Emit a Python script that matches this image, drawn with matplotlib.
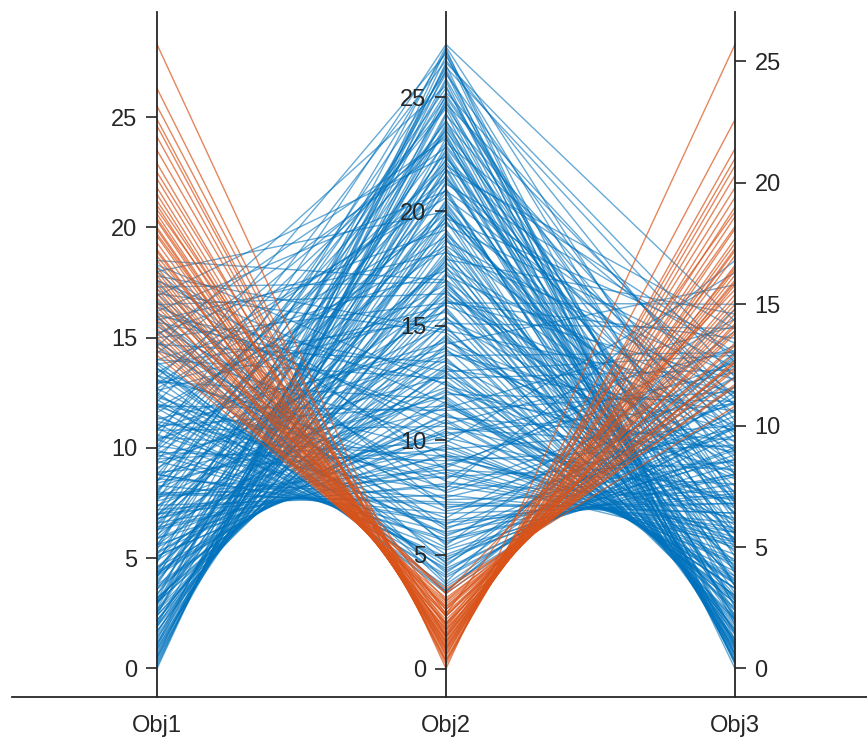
import matplotlib
matplotlib.use("Agg")
import matplotlib.pyplot as plt
import numpy as np

plt.rcParams['font.family'] = ['Liberation Sans', 'DejaVu Sans']

labels = ['Obj1', 'Obj2', 'Obj3']

# group 1 (blue)
blue_obj1 = [8.5, 0.0, 6.2, 0.1, 10.5, 2.4, 0.2, 4.8, 1.1, 7.6,
             0.4, 3.3, 9.4, 0.6, 5.6, 2.0, 12.1, 0.7, 6.9, 3.8,
             0.9, 8.8, 1.6, 4.4, 11.0, 0.9, 2.9, 7.3, 13.4, 1.2,
             5.2, 9.9, 1.5, 3.6, 15.2, 1.4, 6.5, 11.8, 2.2, 4.0,
             1.7, 8.1, 14.0, 2.0, 5.9, 10.3, 2.4, 16.5, 3.1, 7.0,
             2.4, 12.6, 4.6, 2.7, 9.1, 17.8, 3.0, 5.6, 3.2, 11.3,
             3.2, 7.7, 14.7, 3.6, 4.9, 9.6, 3.8, 18.3, 6.3, 4.2,
             13.0, 4.4, 8.4, 4.6, 16.1, 5.3, 10.8, 5.1, 6.8, 14.4,
             5.6, 8.9, 5.9, 17.2, 6.3, 12.0, 6.6, 7.8, 15.5, 7.2,
             10.1, 7.4, 13.6, 8.0, 18.0, 8.3, 11.4, 8.8, 15.9, 9.4,
             12.7, 9.9, 17.0, 10.4, 13.9, 11.1, 16.7, 11.8, 14.9, 12.5,
             17.5, 13.1, 15.7, 13.8, 16.9, 15.1, 18.0, 12.3, 9.5,
             3.1, 12.4, 0.5, 7.9, 2.7, 14.6, 5.4, 0.3, 10.1, 1.3,
             8.0, 3.0, 13.2, 0.5, 6.0, 2.6, 10.8, 0.8, 4.9, 16.2,
             1.9, 8.5, 1.1, 12.7, 4.3, 1.7, 9.7, 3.0, 6.6, 1.9,
             17.3, 4.2, 2.2, 8.5, 13.8, 2.6, 6.4, 3.0, 10.4, 5.2,
             3.7, 15.7, 7.4, 4.3, 11.9, 5.9, 5.1, 17.6, 7.0, 10.5,
             6.4, 13.3, 7.0, 16.6, 7.9, 11.9, 8.8, 14.6, 9.7, 12.0,
             10.9, 13.3, 12.2, 16.0, 13.6,
             9.0, 14.3, 6.7, 11.6, 4.5, 15.8, 7.8, 12.9, 5.0, 17.0,
             9.3, 6.1, 14.0, 8.2, 11.0, 16.4, 7.6, 13.1, 9.8, 18.2,
             11.2, 8.6, 14.8, 10.6, 12.4, 15.3, 11.5, 13.6, 3.9, 5.6,
             2.9, 7.1, 10.0, 1.0, 4.1, 12.9, 2.1, 6.9, 3.4, 10.9,
             4.3, 8.8, 5.5, 6.8, 7.9, 16.0, 18.5, 17.6, 15.0, 2.5]
blue_obj2 = [27.3, 27.1, 27.0, 26.8, 26.6, 26.4, 26.2, 26.0, 25.7, 25.4,
             25.1, 24.8, 24.5, 24.2, 24.0, 23.7, 23.5, 23.2, 23.0, 22.7,
             22.5, 22.2, 22.0, 21.8, 21.5, 21.3, 21.0, 20.8, 20.6, 20.3,
             20.1, 19.9, 19.6, 19.4, 19.2, 19.0, 18.8, 18.5, 18.3, 18.1,
             17.9, 17.6, 17.4, 17.2, 17.0, 16.8, 16.6, 16.4, 16.2, 16.0,
             15.8, 15.6, 15.4, 15.2, 15.0, 14.8, 14.6, 14.4, 14.2, 14.0,
             13.8, 13.6, 13.4, 13.2, 13.0, 12.8, 12.6, 12.4, 12.2, 12.0,
             11.8, 11.6, 11.4, 11.2, 11.0, 10.8, 10.6, 10.4, 10.2, 10.0,
             9.8, 9.6, 9.4, 9.2, 9.0, 8.8, 8.6, 8.4, 8.2, 8.0,
             7.8, 7.6, 7.4, 7.2, 7.0, 6.8, 6.6, 6.4, 6.2, 6.0,
             5.8, 5.6, 5.4, 5.2, 5.0, 4.8, 4.6, 4.4, 4.2, 4.0,
             3.8, 3.6, 3.4, 3.3, 22.4, 23.2, 20.0, 7.9, 9.9,
             27.2, 26.9, 26.5, 26.1, 25.8, 25.5, 25.2, 24.9, 24.6, 24.3,
             23.9, 23.6, 23.3, 22.9, 22.6, 22.3, 21.9, 21.6, 21.2, 20.9,
             20.5, 20.2, 19.8, 19.5, 19.1, 18.7, 18.4, 18.0, 17.7, 17.3,
             16.9, 16.5, 16.1, 15.7, 15.3, 14.9, 14.5, 14.1, 13.7, 13.3,
             12.9, 12.5, 12.1, 11.7, 11.3, 10.9, 10.5, 10.1, 9.7, 9.3,
             8.9, 8.5, 8.1, 7.7, 7.3, 6.9, 6.5, 6.1, 5.7, 5.3,
             4.9, 4.5, 4.1, 3.7, 3.4,
             21.4, 22.8, 19.7, 18.9, 17.5, 18.2, 16.3, 15.9, 15.1, 14.7,
             13.9, 13.5, 12.7, 12.3, 11.5, 10.7, 10.3, 9.5, 9.1, 8.7,
             8.3, 7.5, 7.1, 6.3, 5.9, 5.5, 4.7, 4.3, 20.4, 22.1,
             23.8, 25.0, 23.4, 24.7, 26.3, 20.9, 19.9, 17.8, 16.7, 14.3,
             13.1, 11.9, 11.1, 9.3, 8.7, 13.0, 17.0, 11.6, 16.0, 21.8]
blue_obj3 = [14.3, 0.3, 2.5, 5.6, 10.2, 0.0, 1.8, 8.0, 0.2, 3.9,
             6.8, 0.5, 1.2, 9.5, 0.3, 4.6, 7.2, 0.6, 11.8, 2.2,
             0.4, 5.5, 13.0, 0.7, 3.1, 8.6, 0.6, 1.5, 10.5, 4.0,
             0.8, 6.4, 0.9, 12.4, 2.4, 7.5, 1.1, 9.1, 1.2, 5.0,
             14.6, 1.4, 3.6, 10.9, 1.6, 6.0, 1.5, 8.3, 2.9, 13.6,
             1.7, 4.4, 2.0, 7.9, 1.9, 11.4, 2.1, 5.9, 15.8, 2.4,
             9.8, 2.5, 6.6, 2.7, 12.9, 3.5, 2.9, 8.1, 3.0, 11.0,
             3.3, 5.2, 14.1, 3.6, 9.4, 3.8, 7.0, 4.0, 12.2, 4.3,
             4.5, 10.0, 4.7, 6.2, 5.0, 13.3, 5.2, 8.5, 5.6, 5.8,
             11.6, 6.0, 7.3, 6.4, 9.6, 6.8, 12.7, 7.1, 8.0, 7.6,
             10.4, 8.0, 13.9, 8.4, 9.0, 9.1, 11.2, 9.6, 12.0, 10.2,
             14.8, 10.7, 12.5, 11.4, 4.1, 1.0, 5.3, 16.8, 16.3,
             7.0, 0.2, 12.6, 0.6, 3.4, 1.0, 10.8, 2.0, 5.1, 0.3,
             8.9, 1.4, 3.4, 6.1, 0.5, 10.0, 1.0, 2.6, 12.9, 0.9,
             6.9, 2.8, 0.8, 8.0, 1.2, 11.2, 4.2, 1.1, 9.7, 2.2,
             1.6, 6.4, 11.9, 1.8, 9.0, 3.8, 2.0, 7.3, 13.0, 2.7,
             5.6, 3.0, 8.9, 3.3, 11.4, 3.7, 9.1, 6.9, 4.4, 8.2,
             12.6, 5.1, 7.0, 10.9, 6.4, 8.6, 7.2, 11.0, 7.9, 9.9,
             8.8, 13.0, 10.0, 11.6, 12.9,
             9.8, 6.3, 13.4, 2.0, 8.4, 12.1, 4.8, 10.0, 14.0, 5.7,
             7.8, 4.1, 12.3, 6.7, 4.9, 13.1, 10.9, 5.4, 9.2, 7.6,
             14.4, 9.9, 6.8, 12.0, 8.6, 10.6, 12.8, 9.9, 3.4, 2.1,
             5.2, 6.6, 0.9, 11.1, 12.0, 11.3, 9.3, 3.0, 5.3, 8.8,
             10.6, 3.3, 6.1, 5.6, 5.3, 2.8, 7.0, 3.5, 15.0, 14.0]

# group 2 (orange)
orange_obj1 = [28.3, 26.3, 24.9, 24.6, 24.1, 22.9, 22.2, 21.8, 21.5, 21.0,
               20.6, 20.3, 20.0, 19.9, 19.6, 19.3, 19.0, 18.9, 18.5, 18.2,
               18.0, 17.8, 17.4, 17.2, 17.0, 16.6, 16.2, 16.0, 15.8, 15.4,
               15.2, 15.0, 14.8, 14.6, 14.2, 16.4, 20.8, 14.4,
               23.5, 19.7, 17.6, 22.5, 16.8, 21.2, 25.5, 15.6, 18.7, 20.4]
orange_obj2 = [0.02, 0.20, 0.33, 0.36, 0.45, 0.60, 0.72, 0.80, 0.86, 0.95,
               1.02, 1.10, 1.16, 1.20, 1.25, 1.35, 1.40, 1.45, 1.55, 1.65,
               1.70, 1.75, 1.90, 1.95, 2.00, 2.15, 2.30, 2.35, 2.45, 2.60,
               2.70, 2.75, 2.85, 2.95, 3.10, 3.30, 2.40, 3.50,
               0.90, 2.00, 2.60, 1.40, 3.00, 1.80, 0.60, 3.30, 2.30, 1.50]
orange_obj3 = [25.7, 22.6, 21.4, 20.7, 20.3, 19.4, 19.0, 18.6, 18.1, 17.7,
               17.3, 17.0, 17.5, 16.6, 16.4, 16.2, 16.0, 15.8, 15.4, 15.2,
               15.0, 14.8, 14.6, 14.2, 14.1, 13.8, 13.4, 13.3, 13.0, 12.7,
               12.6, 12.4, 12.3, 12.0, 11.7, 15.6, 18.8, 10.8,
               19.8, 15.9, 13.9, 17.2, 12.6, 16.5, 21.0, 11.6, 14.4, 18.2]

blue = np.array([blue_obj1, blue_obj2, blue_obj3])
orange = np.array([orange_obj1, orange_obj2, orange_obj3])

allvals = np.hstack([blue, orange])
vmin = allvals.min(axis=1)
vmax = allvals.max(axis=1)
pad_lo, pad_hi = 0.0457, 0.052

fig = plt.figure(figsize=(8.67, 7.44), dpi=100)
ax = fig.add_axes([12/867, 47/744, 855/867, 685/744])

xs = np.arange(1, 4)
for k in range(3):
    t = ax.twinx()
    lo, hi = vmin[k], vmax[k]
    rng = hi - lo
    t.set_ylim(lo - pad_lo * rng, hi + pad_hi * rng)
    for s in t.spines.values():
        s.set_visible(False)
    side = 'right' if k == 2 else 'left'
    t.spines[side].set_visible(True)
    t.spines[side].set_position(('data', k + 1))
    t.spines[side].set_color('#262626')
    t.spines[side].set_linewidth(1.3)
    t.yaxis.set_ticks_position(side)
    t.set_yticks(np.arange(0, hi, 5))
    t.tick_params(axis='y', direction='out', length=8, width=1.2,
                  colors='#262626', labelsize=17, pad=6)

ax.set_xlim(0.498, 3.457)
ax.set_ylim(-pad_lo, 1 + pad_hi)

norm_b = (blue - vmin[:, None]) / (vmax - vmin)[:, None]
norm_o = (orange - vmin[:, None]) / (vmax - vmin)[:, None]
ax.plot(xs, norm_b, color='#0072BD', lw=1.0, alpha=0.6)
ax.plot(xs, norm_o, color='#D95319', lw=1.0, alpha=0.7)

for side in ['top', 'right', 'left']:
    ax.spines[side].set_visible(False)
ax.spines['bottom'].set_color('#262626')
ax.spines['bottom'].set_linewidth(1.3)
ax.set_yticks([])
ax.set_xticks(xs)
ax.set_xticklabels(labels)
ax.tick_params(axis='x', length=0, pad=13, labelsize=17, colors='#262626')

fig.savefig('out.png', dpi=100)
